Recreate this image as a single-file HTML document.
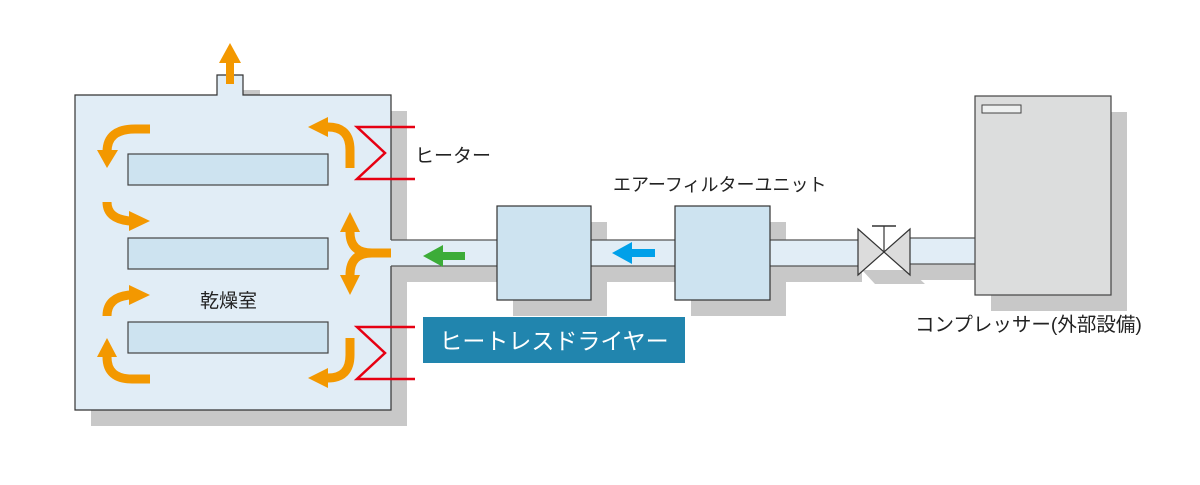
<!DOCTYPE html>
<html><head><meta charset="utf-8"><style>
html,body{margin:0;padding:0;background:#fff;}
svg text{font-family:"Liberation Sans","Noto Sans CJK JP",sans-serif;}
</style></head><body>
<svg width="1200" height="480" viewBox="0 0 1200 480" xmlns="http://www.w3.org/2000/svg">
<g fill="#c8c8c8">
<rect x="91" y="111" width="316" height="315"/>
<rect x="243" y="90" width="17" height="10"/>
<rect x="391" y="266" width="120" height="16"/>
<rect x="513" y="222" width="94" height="94"/>
<rect x="591" y="266" width="100" height="16"/>
<rect x="691" y="222" width="95" height="94"/>
<rect x="770" y="266" width="92" height="16"/>
<polygon points="862,270 910,270 925,284 875,284"/>
<rect x="910" y="264" width="81" height="16"/>
<rect x="991" y="112" width="136" height="199"/>
</g>
<path d="M75,95 H217 V75 H243 V95 H391 V410 H75 Z" fill="#e1edf6" stroke="#333" stroke-width="1.2"/>
<rect x="390" y="240" width="108" height="26" fill="#e1edf6"/>
<line x1="391" y1="240" x2="497" y2="240" stroke="#555" stroke-width="1.2"/>
<line x1="391" y1="266" x2="497" y2="266" stroke="#555" stroke-width="1.2"/>
<rect x="591" y="240" width="84" height="26" fill="#e1edf6"/>
<line x1="591" y1="240" x2="675" y2="240" stroke="#555" stroke-width="1.2"/>
<line x1="591" y1="266" x2="675" y2="266" stroke="#555" stroke-width="1.2"/>
<rect x="770" y="240" width="90" height="26" fill="#e1edf6"/>
<line x1="770" y1="240" x2="860" y2="240" stroke="#555" stroke-width="1.2"/>
<line x1="770" y1="266" x2="860" y2="266" stroke="#555" stroke-width="1.2"/>
<rect x="908" y="238" width="67" height="26" fill="#e1edf6"/>
<line x1="908" y1="238" x2="975" y2="238" stroke="#555" stroke-width="1.2"/>
<line x1="908" y1="264" x2="975" y2="264" stroke="#555" stroke-width="1.2"/>
<rect x="497" y="206" width="94" height="94" fill="#cde3f0" stroke="#333" stroke-width="1.2"/>
<rect x="675" y="206" width="95" height="94" fill="#cde3f0" stroke="#333" stroke-width="1.2"/>
<polygon points="858,229 910,275 910,229 858,275" fill="#dcdcdc" stroke="#333" stroke-width="1.2"/>
<line x1="884" y1="226" x2="884" y2="252" stroke="#333" stroke-width="1.2"/>
<line x1="872" y1="226" x2="896" y2="226" stroke="#333" stroke-width="1.5"/>
<rect x="975" y="96" width="136" height="199" fill="#dcdddd" stroke="#444" stroke-width="1.2"/>
<rect x="982" y="105" width="39" height="8" fill="#eef0f0" stroke="#444" stroke-width="1"/>
<g fill="#cde3f0" stroke="#444" stroke-width="1.2">
<rect x="128" y="154" width="200" height="31"/>
<rect x="128" y="238" width="200" height="31"/>
<rect x="128" y="322" width="200" height="31"/>
</g>
<g fill="none" stroke="#e60012" stroke-width="2.5">
<polyline points="415,127 357,127 385,153 357,179 415,179"/>
<polyline points="415,327 357,327 385,353 357,379 415,379"/>
</g>
<g fill="none" stroke="#f39800" stroke-width="9">
<path d="M150,129 H135 Q107,129 107,152"/>
<path d="M350,168 V150 Q350,127 328,127"/>
<path d="M107,202 Q107,219 130,221"/>
<path d="M391,253 H372 Q350,253 350,232"/>
<path d="M372,253 Q350,253 350,275"/>
<path d="M107,316 Q107,297 130,295"/>
<path d="M150,379 H132 Q107,379 107,357"/>
<path d="M350,338 V355 Q350,378 328,378"/>
</g>
<g fill="#f39800">
<polygon points="97,150 118,150 107,168"/>
<polygon points="308,127 328,117 328,137"/>
<polygon points="150,221 129,211 129,231"/>
<polygon points="350,212 340,232 360,232"/>
<polygon points="350,295 340,275 360,275"/>
<polygon points="150,295 129,285 129,305"/>
<polygon points="107,338 97,357 117,357"/>
<polygon points="308,378 328,368 328,388"/>
<polygon points="230,43 219,63 241,63"/><rect x="226" y="62" width="8" height="22"/>
</g>
<polygon points="423,256 443,245 443,252 465,252 465,260 443,260 443,267" fill="#3cac38"/>
<polygon points="612,253 632,242 632,249 655,249 655,257 632,257 632,264" fill="#00a0e9"/>
<rect x="423" y="317" width="262" height="46" fill="#2185ae"/>
<text x="554" y="349" font-size="23" fill="#fff" text-anchor="middle">ヒートレスドライヤー</text>
<text x="415" y="162" font-size="19" fill="#222">ヒーター</text>
<text x="613" y="191" font-size="18" fill="#222">エアーフィルターユニット</text>
<text x="200" y="307" font-size="19" fill="#222">乾燥室</text>
<text x="915" y="331" font-size="19.5" fill="#222">コンプレッサー(外部設備)</text>
</svg>
</body></html>
